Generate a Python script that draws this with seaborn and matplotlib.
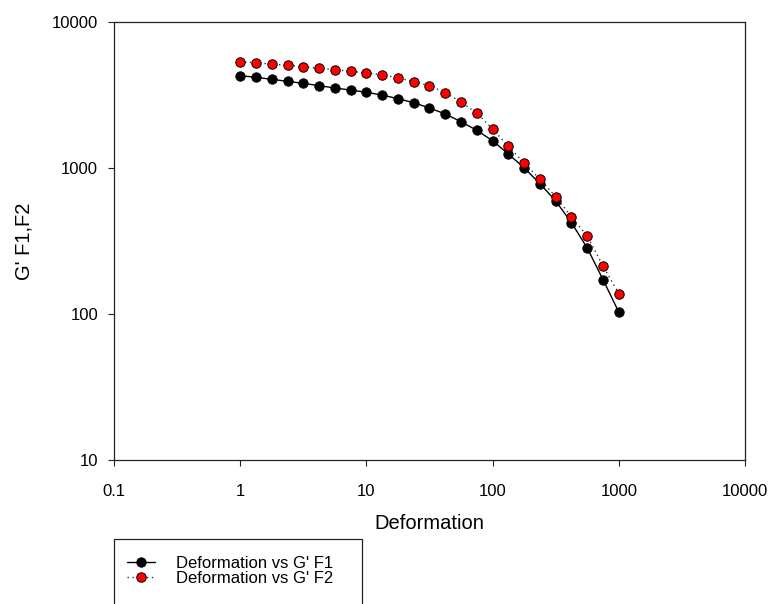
import numpy as np
import pandas as pd
import matplotlib
matplotlib.use("Agg")
import matplotlib.pyplot as plt
from matplotlib.patches import Rectangle
import seaborn as sns

# ---- data ----
deformation = [1.0, 1.334, 1.778, 2.371, 3.162, 4.217, 5.623, 7.499, 10.0,
               13.34, 17.78, 23.71, 31.62, 42.17, 56.23, 74.99, 100.0,
               133.4, 177.8, 237.1, 316.2, 421.7, 562.3, 749.9, 1000.0]
g_f1 = [4290, 4180, 4050, 3925, 3800, 3665, 3530, 3420, 3300, 3160, 2985,
        2800, 2575, 2345, 2075, 1810, 1538, 1245, 1003, 781, 595, 422, 283,
        172, 103]
g_f2 = [5350, 5260, 5150, 5050, 4940, 4820, 4715, 4595, 4480, 4340, 4160,
        3900, 3665, 3280, 2830, 2370, 1850, 1406, 1082, 838, 637, 462, 343,
        213, 138]
series_labels = ["Deformation vs G' F1", "Deformation vs G' F2"]
x_ticks = [0.1, 1, 10, 100, 1000, 10000]
x_tick_labels = ["0.1", "1", "10", "100", "1000", "10000"]
y_ticks = [10, 100, 1000, 10000]
y_tick_labels = ["10", "100", "1000", "10000"]
x_label = "Deformation"
y_label = "G' F1,F2"

sns.set_style("white")
plt.rcParams["font.family"] = ["Liberation Sans", "DejaVu Sans"]
plt.rcParams["text.color"] = "black"
plt.rcParams["axes.labelcolor"] = "black"
plt.rcParams["xtick.color"] = "black"
plt.rcParams["ytick.color"] = "black"

W, H = 774, 604
fig = plt.figure(figsize=(W / 100, H / 100), dpi=100)
L, R, T, B = 114, 745, 22, 460
ax = fig.add_axes([L / W, (H - B) / H, (R - L) / W, (B - T) / H])

df1 = pd.DataFrame({"x": deformation, "y": g_f1})
df2 = pd.DataFrame({"x": deformation, "y": g_f2})

sns.lineplot(data=df1, x="x", y="y", ax=ax, color="black", lw=1.0,
             marker="o", markersize=6.8, markerfacecolor="black",
             markeredgecolor="black", markeredgewidth=0.6,
             label=series_labels[0], zorder=3)
sns.lineplot(data=df2, x="x", y="y", ax=ax, color="#333333", lw=1.0,
             linestyle=(0, (1, 2.5)),
             marker="o", markersize=6.8, markerfacecolor="#ff0000",
             markeredgecolor="black", markeredgewidth=0.7,
             label=series_labels[1], zorder=4)

ax.set_xscale("log")
ax.set_yscale("log")
ax.set_xlim(0.1, 10000)
ax.set_ylim(10, 10000)
ax.set_xticks(x_ticks)
ax.set_xticklabels(x_tick_labels)
ax.set_yticks(y_ticks)
ax.set_yticklabels(y_tick_labels)
ax.minorticks_off()
ax.tick_params(axis="x", which="major", direction="out", length=4.5,
               width=0.8, color="#222222", labelcolor="black", labelsize=12,
               pad=13, bottom=True, top=False)
ax.tick_params(axis="y", which="major", direction="out", length=4.5,
               width=0.8, color="#222222", labelcolor="black", labelsize=12,
               pad=7, left=True, right=False)
for s in ax.spines.values():
    s.set_visible(True)
    s.set_color("#222222")
    s.set_linewidth(0.9)

ax.set_xlabel(x_label, fontsize=14.5, color="black")
ax.set_ylabel(y_label, fontsize=14.5, color="black")
ax.xaxis.set_label_coords((429 - L) / (R - L), (B - 514) / (B - T))
ax.yaxis.set_label_coords((34 - L) / (R - L), 0.5)

# legend (frameless), with a manually drawn box
handles, labels = ax.get_legend_handles_labels()
if ax.get_legend():
    ax.get_legend().remove()
leg = fig.legend(handles, labels, loc="upper left",
                 bbox_to_anchor=(127 / W, 1 - 556 / H),
                 frameon=False, fontsize=12, handlelength=1.68,
                 handletextpad=1.26, labelspacing=0.0, borderpad=0,
                 borderaxespad=0, numpoints=1)
for t in leg.get_texts():
    t.set_color("black")
fig.add_artist(Rectangle((114 / W, -0.02), (362 - 114) / W, (H - 539) / H + 0.02,
                         transform=fig.transFigure, fill=False,
                         edgecolor="#222222", lw=0.9))

fig.savefig("out.png", dpi=100)
